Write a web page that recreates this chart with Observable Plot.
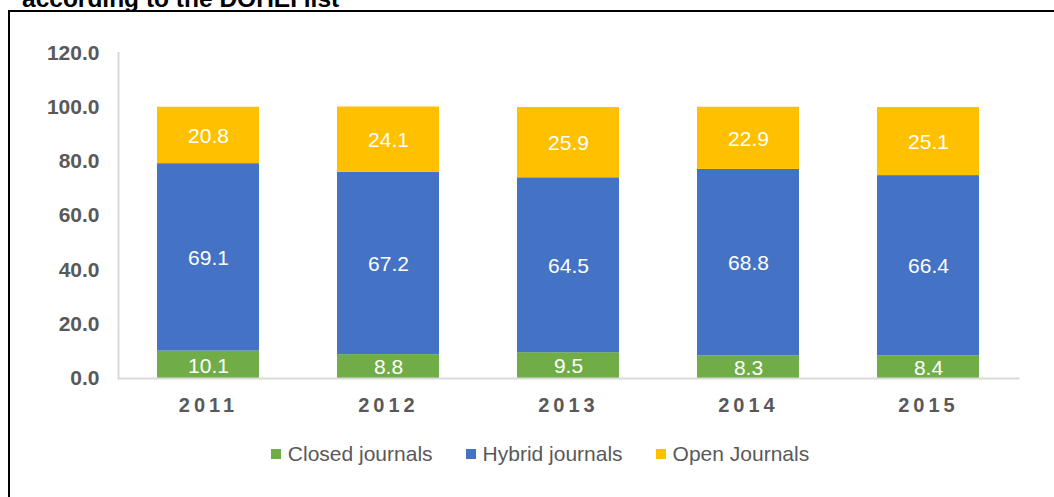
<!DOCTYPE html>
<html>
<head>
<meta charset="utf-8">
<script src="https://cdn.jsdelivr.net/npm/d3@7"></script>
<script src="https://cdn.jsdelivr.net/npm/@observablehq/plot@0.6"></script>
<style>
  html, body { margin: 0; padding: 0; background: #fff; }
  #wrap { position: relative; width: 1054px; height: 497px; overflow: hidden; font-family: "Liberation Sans", Arial, sans-serif; }
  #title { position: absolute; left: 22px; top: -15px; font-size: 24.5px; line-height: 28px; font-weight: bold; color: #000; white-space: nowrap; }
  #frame { position: absolute; left: 8px; top: 10px; width: 1100px; height: 600px; border-left: 2px solid #000; border-top: 2px solid #000; }
  #chart { position: absolute; left: 0; top: 0; }
  #legend { position: absolute; left: 0; width: 1080px; top: 441px; display: flex; justify-content: center; gap: 33px; font-size: 21px; line-height: 26px; color: #595959; }
  .item { display: flex; align-items: center; }
  .sw { width: 10px; height: 10px; margin-right: 7px; }
  #chart svg g[aria-label="x-axis tick label"] text { letter-spacing: 4px; }
</style>
</head>
<body>
<div id="wrap">
  <div id="title">according to the DOHEI list</div>
  <div id="frame"></div>
  <div id="chart"></div>
  <div id="legend"></div>
</div>
<script>
const years = ["2011", "2012", "2013", "2014", "2015"];
const seriesNames = ["Closed journals", "Hybrid journals", "Open Journals"];
const closed = [10.1, 8.8, 9.5, 8.3, 8.4];
const hybrid = [69.1, 67.2, 64.5, 68.8, 66.4];
const open = [20.8, 24.1, 25.9, 22.9, 25.1];
const colors = ["#70AD47", "#4472C4", "#FFC000"];
const yTicks = [0, 20, 40, 60, 80, 100, 120];

const values = [closed, hybrid, open];
const data = [];
years.forEach((yr, i) => {
  seriesNames.forEach((s, j) => data.push({year: yr, series: s, value: values[j][i]}));
});

const chart = Plot.plot({
  width: 1054,
  height: 497,
  marginLeft: 118,
  marginRight: 36,
  marginTop: 52.5,
  marginBottom: 119,
  style: {fontFamily: "'Liberation Sans', Arial, sans-serif", background: "transparent"},
  x: {domain: years, paddingInner: 0.433, paddingOuter: 0.2165, label: null},
  y: {domain: [0, 120], ticks: yTicks, label: null},
  color: {domain: seriesNames, range: colors},
  marks: [
    Plot.barY(data, {x: "year", y: "value", fill: "series"}),
    Plot.text(data, Plot.stackY({x: "year", y: "value", text: d => d.value.toFixed(1), fill: "white", fontSize: 21, dy: 1})),
    Plot.frame({anchor: "left", stroke: "#D9D9D9", strokeWidth: 2}),
    Plot.frame({anchor: "bottom", stroke: "#D9D9D9", strokeWidth: 2}),
    Plot.axisY({ticks: yTicks, tickFormat: d => d.toFixed(1), tickSize: 0, tickPadding: 19, fontSize: 21, fontWeight: "bold", fill: "#595959", label: null}),
    Plot.axisX({tickSize: 0, tickPadding: 19, fontSize: 20, fontWeight: "bold", fill: "#595959", label: null})
  ]
});
document.getElementById("chart").appendChild(chart);

const legend = document.getElementById("legend");
seriesNames.forEach((s, j) => {
  const it = document.createElement("div");
  it.className = "item";
  const sw = document.createElement("div");
  sw.className = "sw";
  sw.style.background = colors[j];
  it.appendChild(sw);
  const t = document.createElement("span");
  t.textContent = s;
  it.appendChild(t);
  legend.appendChild(it);
});
</script>
</body>
</html>
